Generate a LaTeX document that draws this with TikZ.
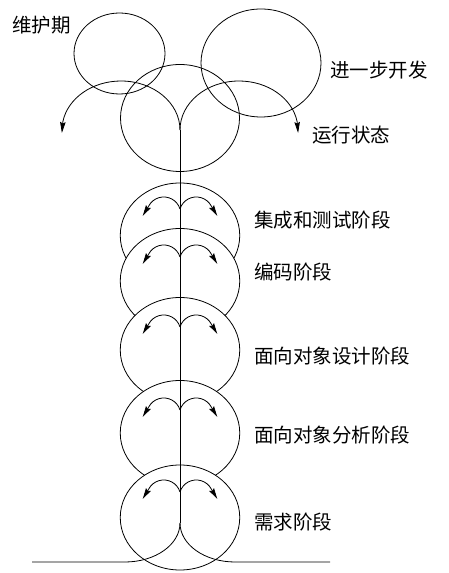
\documentclass[tikz,border=0pt]{standalone}
\usepackage{fontspec}
\newfontfamily\cjk{Noto Sans CJK SC}
\usetikzlibrary{shapes.geometric,arrows.meta}

\begin{document}
\begin{tikzpicture}[x=1pt,y=1pt,line width=0.8pt,
    stage/.style={ellipse,draw,fill=white,inner sep=0pt,minimum width=119.5pt,minimum height=105pt},
    ring/.style={ellipse,draw,inner sep=0pt},
    lbl/.style={inner sep=0pt,anchor=west,font=\cjk\fontsize{19.5}{19.5}\selectfont},
    tip/.style={-{Stealth[length=11pt,width=5.5pt,inset=1.5pt]}}]
    \useasboundingbox (0,0) rectangle (449,573);
    \node[ring,minimum width=91pt,minimum height=81pt] (wh) at (119.5,519.5) {};
    \node[ring,minimum width=120pt,minimum height=108pt] (kf) at (261,510) {};
    \node[ring,minimum width=119pt,minimum height=107pt] (yx) at (180,455) {};
    \node[stage] (cs) at (180,337.5) {};
    \node[stage] (bm) at (180,292) {};
    \node[stage] (sj) at (180,223) {};
    \node[stage] (fx) at (180,140) {};
    \node[stage] (xq) at (180,55.5) {};
    \coordinate (J) at (180,443);
    \coordinate (B) at (180,50);
    \coordinate (L) at (32,11);
    \coordinate (R) at (330,11);
    \draw (J) -- (B);
    \draw[tip] (J) arc[start angle=0,end angle=170,x radius=59,y radius=49] -- ++(-1,-11.5);
    \draw[tip] (J) arc[start angle=180,end angle=10,x radius=59,y radius=49] -- ++(1,-11.5);
    \draw (B) arc[start angle=0,end angle=-90,x radius=55,y radius=39] -- (L);
    \draw (B) arc[start angle=180,end angle=270,x radius=55,y radius=39] -- (R);
    \foreach \s/\d in {cs/26.5,bm/24,sj/23,fx/23,xq/25.5}{
        \draw[tip] ([yshift=\d pt]\s.center) arc[start angle=17,end angle=152,radius=17] -- ++(-6,-10);
        \draw[tip] ([yshift=\d pt]\s.center) arc[start angle=163,end angle=28,radius=17] -- ++(6,-10);
    }
    \node[lbl] (whq) at (12,548) {维护期};
    \node[lbl] (kfq) at (330,503) {进一步开发};
    \node[lbl] (yxq) at (312,438) {运行状态};
    \node[lbl] (csq) at (254,353) {集成和测试阶段};
    \node[lbl] (bmq) at (254,300.5) {编码阶段};
    \node[lbl] (sjq) at (254,217) {面向对象设计阶段};
    \node[lbl] (fxq) at (254,138) {面向对象分析阶段};
    \node[lbl] (xqq) at (254,51) {需求阶段};
\end{tikzpicture}
\end{document}
